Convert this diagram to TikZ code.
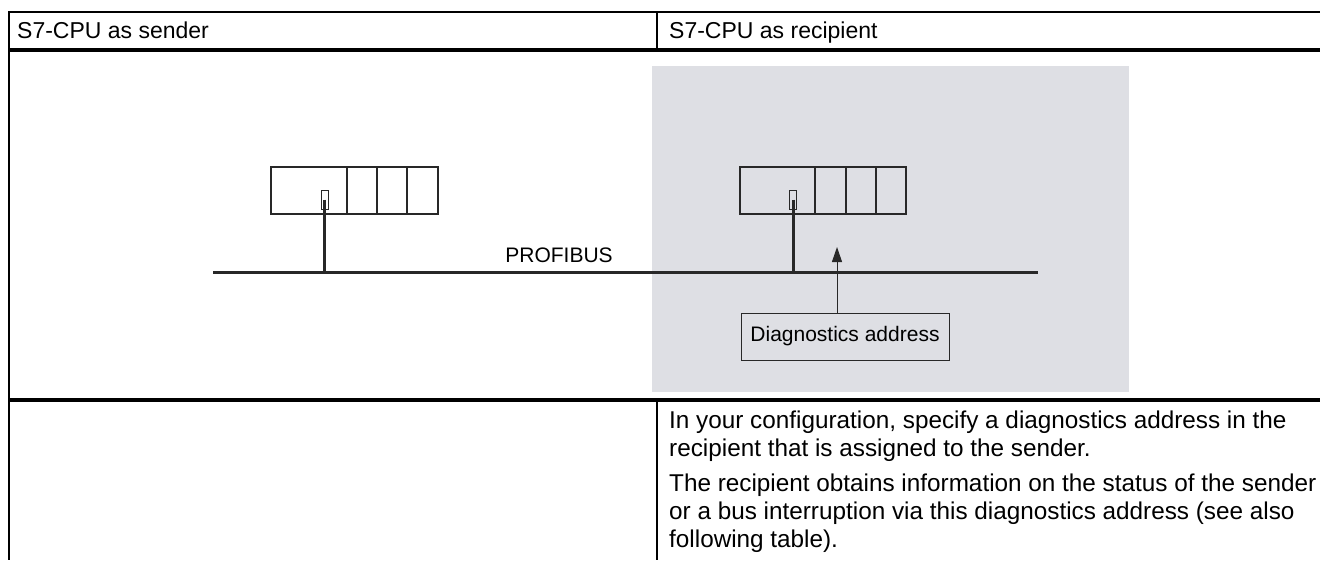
\documentclass[tikz,border=0pt]{standalone}
\usepackage{fontspec}
\setmainfont{Liberation Sans}
\usetikzlibrary{arrows.meta}
\definecolor{panelgray}{RGB}{222,223,228}
\definecolor{inkdark}{RGB}{40,40,40}
\begin{document}
\begin{tikzpicture}[x=1pt,y=-1pt,
  rule/.style={line width=#1, black},
  module/.style={draw=inkdark, line width=1.2pt, inner sep=0pt, minimum height=47pt},
  port/.style={draw=inkdark, line width=1pt, inner sep=0pt, minimum width=7pt, minimum height=19pt},
  busline/.style={draw=inkdark, line width=3pt},
  label/.style={font=\fontsize{21}{25}\selectfont, inner sep=0pt},
  header/.style={font=\fontsize{23}{27}\selectfont, anchor=base west, inner sep=0pt},
  body/.style={font=\fontsize{24.3}{28}\selectfont, anchor=base west, inner sep=0pt, align=left},
  diagbox/.style={draw=inkdark, line width=1pt, inner sep=0pt, minimum width=208pt, minimum height=47pt, font=\fontsize{21}{25}\selectfont},
  pointer/.style={draw=inkdark, line width=1pt, -{Triangle[length=15pt,width=10pt]}}
]
\useasboundingbox (0,0) rectangle (1320,560);
% shaded recipient panel
\fill[panelgray] (652,66) rectangle (1129,392);
% table rules
\draw[rule=2pt] (8,12) -- (1320,12);
\draw[rule=4pt] (8,50) -- (1320,50);
\draw[rule=4pt] (8,400) -- (1320,400);
\draw[rule=2.5pt] (9,11) -- (9,560);
\draw[rule=2pt] (657,12) -- (657,50);
\draw[rule=2.5pt] (657,400) -- (657,560);
% headers
\node[header] (hs) at (17,38) {S7-CPU as sender};
\node[header] (hr) at (669,38) {S7-CPU as recipient};
% sender rack
\node[module, minimum width=76pt]  (mL0) at (309,190.5) {};
\node[module, minimum width=30pt]  (mL1) at (362,190.5) {};
\node[module, minimum width=30pt]  (mL2) at (392,190.5) {};
\node[module, minimum width=31pt]  (mL3) at (422.5,190.5) {};
\node[port] (pL) at (324.5,199.5) {};
% recipient rack
\node[module, minimum width=75pt]  (mR0) at (777.5,190.5) {};
\node[module, minimum width=31pt]  (mR1) at (830.5,190.5) {};
\node[module, minimum width=30pt]  (mR2) at (861,190.5) {};
\node[module, minimum width=30pt]  (mR3) at (891,190.5) {};
\node[port] (pR) at (793,199.5) {};
% bus
\coordinate (busW) at (213,272);
\coordinate (busE) at (1038,272);
\draw[busline] (busW) -- (busE);
\draw[busline] (pL.center) -- (pL.center |- busW);
\draw[busline] (pR.center) -- (pR.center |- busW);
\node[label] (pb) at (559,255) {PROFIBUS};
% diagnostics address
\node[diagbox] (diag) at (845,336.5) {Diagnostics address};
\coordinate (tip) at (837,247);
\draw[pointer] (diag.north -| tip) -- (tip);
% body text (anchor base = baseline of last line)
\node[body] (txt) at (669,547) {In your configuration, specify a diagnostics address in the\\
recipient that is assigned to the sender.\\[7pt]
The recipient obtains information on the status of the sender\\
or a bus interruption via this diagnostics address (see also\\
following table).};
\end{tikzpicture}
\end{document}
